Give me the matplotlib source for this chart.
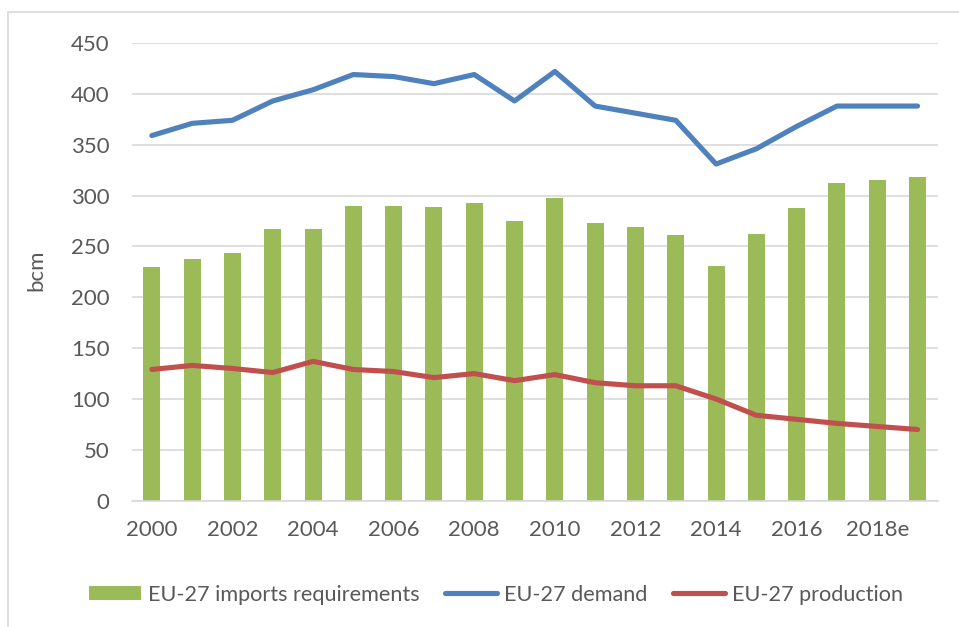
import matplotlib.pyplot as plt
import numpy as np
from matplotlib.patches import Rectangle

years = ['2000', '2001', '2002', '2003', '2004', '2005', '2006', '2007', '2008', '2009',
         '2010', '2011', '2012', '2013', '2014', '2015', '2016', '2017', '2018e', '2019']
imports = [230, 238, 244, 267, 267, 290, 290, 289, 293, 275,
           298, 273, 269, 261, 231, 262, 288, 312, 315, 318]
demand = [359, 371, 374, 393, 404, 419, 417, 410, 419, 393,
          422, 388, 381, 374, 331, 346, 368, 388, 388, 388]
production = [129, 133, 130, 126, 137, 129, 127, 121, 125, 118,
              124, 116, 113, 113, 100, 84, 80, 76, 73, 70]

plt.rcParams['font.family'] = ['Lato', 'DejaVu Sans']
txt = '#595959'

fig = plt.figure(figsize=(9.59, 6.27), dpi=100)
ax = fig.add_axes([131.7 / 959, 1 - 500.7 / 627, 806 / 959, (500.7 - 43) / 627])

x = np.arange(len(years))
bars = ax.bar(x, imports, width=0.42, color='#9BBB59', zorder=2)
l1, = ax.plot(x, demand, color='#4F81BD', lw=3.7, solid_capstyle='round', zorder=3)
l2, = ax.plot(x, production, color='#C0504D', lw=3.7, solid_capstyle='round', zorder=3)

ax.set_xlim(-0.5, len(years) - 0.5)
ax.set_ylim(0, 450)
ax.set_yticks(range(0, 451, 50))
ax.set_xticks(x[::2])
ax.set_xticklabels(years[::2])
ax.grid(axis='y', color='#D9D9D9', lw=1.2, zorder=0)
for s in ['top', 'right', 'left']:
    ax.spines[s].set_visible(False)
ax.spines['bottom'].set_color('#D9D9D9')
ax.spines['bottom'].set_linewidth(1.2)
ax.tick_params(length=0, labelsize=16, colors=txt)
ax.tick_params(axis='x', pad=14)
ax.tick_params(axis='y', pad=16)
ax.set_ylabel('bcm', fontsize=16, color=txt)
ax.yaxis.set_label_coords((46 - 131.7) / 806, (500.7 - 270) / 457.7)

leg = ax.legend([bars, l1, l2],
                ['EU-27 imports requirements', 'EU-27 demand', 'EU-27 production'],
                loc='center', bbox_to_anchor=(0.452, -94 / 457.7), ncol=3, frameon=False,
                fontsize=15.6, handlelength=2.4, handleheight=0.6, columnspacing=1.2,
                handletextpad=0.3)
for t in leg.get_texts():
    t.set_color(txt)

fig.patches.append(Rectangle((8 / 959, -0.1), 1.2, 1 - 12 / 627 + 0.1, transform=fig.transFigure,
                             fill=False, edgecolor='#D9D9D9', lw=1.2))

fig.savefig('out.png', dpi=100)
